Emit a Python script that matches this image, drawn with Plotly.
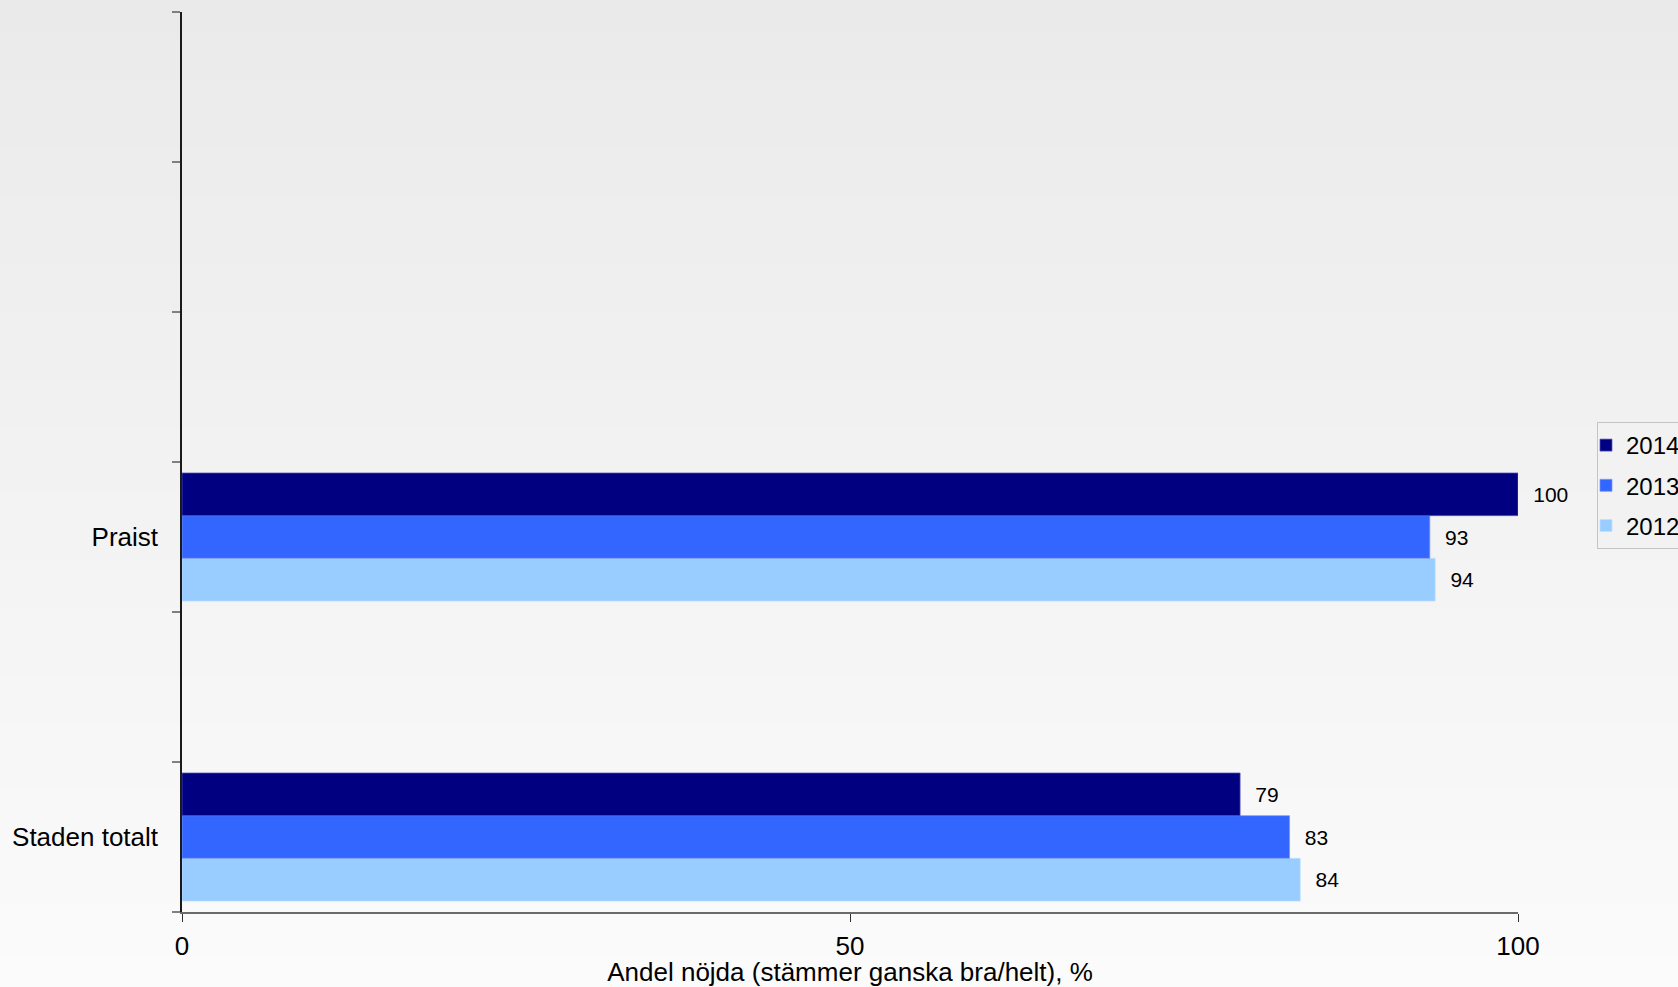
import plotly.graph_objects as go

categories = ["Praist", "Staden totalt"]
axis_slots = ["Staden totalt", "\u200b", "Praist", "\u200b\u200b", "\u200b\u200b\u200b", "\u200b\u200b\u200b\u200b"]
years = ["2012", "2013", "2014"]
values_2012 = [93.8, 83.7]
values_2013 = [93.4, 82.9]
values_2014 = [100, 79.2]
colors = {"2014": "#000080", "2013": "#3366FF", "2012": "#99CCFF"}
edge = {"2014": "rgba(90,90,190,0.9)", "2013": "rgba(120,150,255,0.9)", "2012": "rgba(190,225,255,0.9)"}
ranks = {"2014": 1, "2013": 2, "2012": 3}
series = {"2012": values_2012, "2013": values_2013, "2014": values_2014}
x_ticks = [0, 50, 100]

FONT = "Liberation Sans, Arial, sans-serif"

fig = go.Figure()
for yr in years:
    fig.add_trace(go.Bar(
        name=yr, y=categories, x=series[yr], orientation="h",
        marker=dict(color=colors[yr], line=dict(color=edge[yr], width=0.8)),
        texttemplate="\u2002\u200a%{x:.0f}", textposition="outside",
        textfont=dict(size=21, color="#000000", family=FONT),
        cliponaxis=False, legendgroup=yr, legendrank=ranks[yr],
    ))

# background gradient (top light grey -> bottom near white)
shapes = []
n = 60
top_c, bot_c = 234, 251
H = 987.0
for i in range(n):
    p0 = i / n * H
    p1 = (i + 1) / n * H + 0.5
    c = round(top_c + (bot_c - top_c) * (i + 0.5) / n)
    y_top = (912 - p0) / 900.0
    y_bot = (912 - p1) / 900.0
    shapes.append(dict(type="rect", xref="paper", yref="paper",
                       x0=-0.2, x1=1.3, y0=y_bot, y1=y_top,
                       fillcolor=f"rgb({c},{c},{c})", line=dict(width=0), layer="below"))

fig.update_layout(
    width=1678, height=987,
    margin=dict(l=182, r=160, t=12, b=75, pad=0),
    paper_bgcolor="#f2f2f2", plot_bgcolor="rgba(0,0,0,0)",
    barmode="group", bargap=0.146, bargroupgap=0,
    font=dict(family=FONT, size=26, color="#000000"),
    shapes=shapes,
    showlegend=True,
    legend=dict(
        xref="container", yref="container",
        x=1597 / 1678.0, xanchor="left",
        y=(987 - 422) / 987.0, yanchor="top",
        traceorder="grouped", tracegroupgap=6,
        bgcolor="rgba(242,242,242,1)", bordercolor="#c4c4c4", borderwidth=1,
        font=dict(size=24, family=FONT, color="#000000"),
        indentation=-12,
    ),
    xaxis=dict(
        range=[0, 100], tickmode="array", tickvals=x_ticks,
        showgrid=False, zeroline=False,
        showline=True, linecolor="#6a6a6a", linewidth=1.5,
        ticks="outside", ticklen=8, tickcolor="#303030", tickwidth=1,
        tickfont=dict(size=26, family=FONT), ticklabelstandoff=2,
        title=dict(text="Andel nöjda (stämmer ganska bra/helt), %",
                   font=dict(size=26, family=FONT), standoff=14),
        automargin=False, fixedrange=True,
    ),
    yaxis=dict(
        type="category", categoryorder="array", categoryarray=axis_slots,
        range=[-0.5, 5.5],
        showgrid=False, zeroline=False,
        showline=True, linecolor="#1a1a1a", linewidth=1.5,
        ticks="outside", ticklen=8, tickcolor="#808080", tickwidth=1.5,
        tickson="boundaries",
        tickfont=dict(size=26, family=FONT), ticklabelstandoff=17,
        automargin=False, fixedrange=True,
    ),
)

fig.write_html("out.html", config={"displayModeBar": False},
               post_script="document.body.style.margin='0';document.body.style.overflow='hidden';")
